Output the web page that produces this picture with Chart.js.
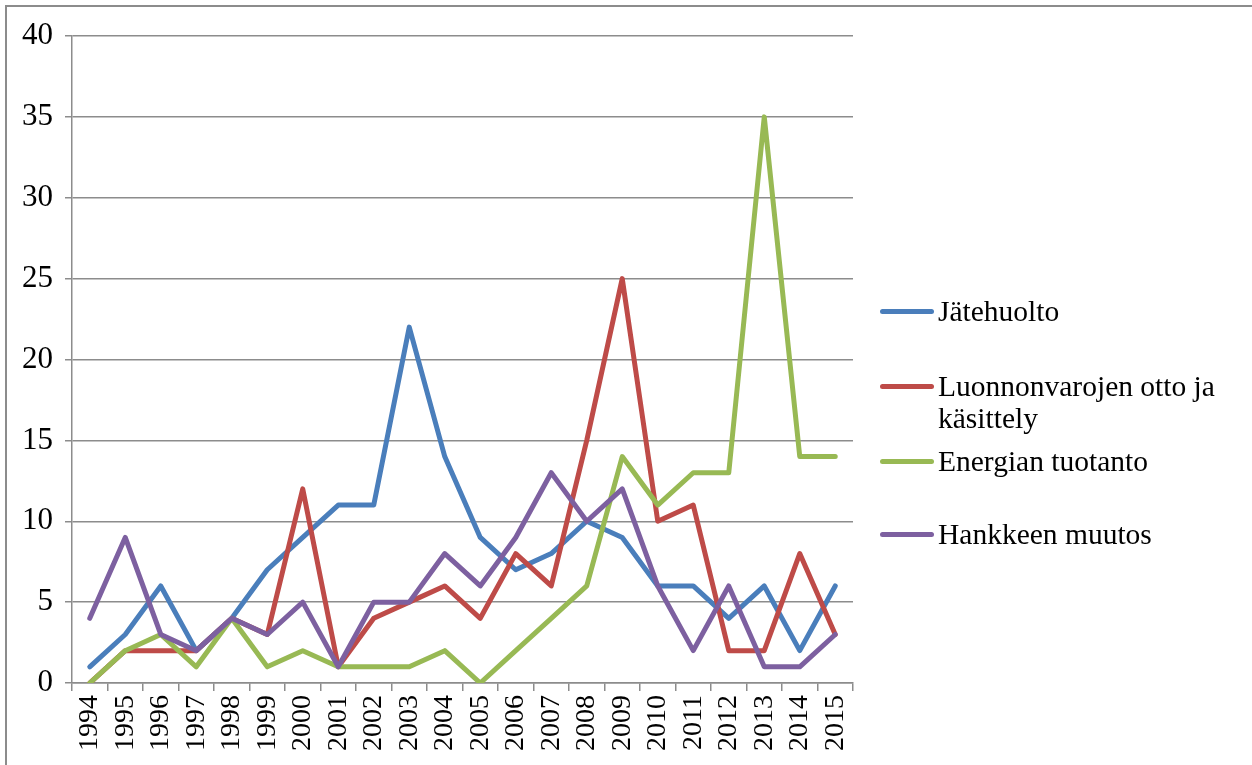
<!DOCTYPE html>
<html>
<head>
<meta charset="utf-8">
<script src="https://cdn.jsdelivr.net/npm/chart.js@4.4.0/dist/chart.umd.min.js"></script>
<style>
  body { margin: 0; background: #fff; }
  #frame { position: absolute; left: 5px; top: 5px; width: 1300px; height: 800px; border: 2px solid #8c8c8c; box-sizing: border-box; }
  #wrap { position: absolute; left: 0; top: 0; width: 1252px; height: 765px; }
  .leg { position: absolute; left: 880px; font-family: 'Liberation Serif', serif; font-size: 29.5px; line-height: 32px; color: #000; }
  .leg .mark { position: absolute; left: 0; top: 14px; width: 54px; height: 5px; border-radius: 3px; }
  .leg .txt { margin-left: 58px; }
</style>
</head>
<body>
<div id="frame"></div>
<div id="wrap"><canvas id="chart"></canvas></div>
<div id="legend"></div>
<script>
// Data
const years = ['1994','1995','1996','1997','1998','1999','2000','2001','2002','2003','2004',
               '2005','2006','2007','2008','2009','2010','2011','2012','2013','2014','2015'];
const jatehuolto = [1, 3, 6, 2, 4, 7, 9, 11, 11, 22, 14, 9, 7, 8, 10, 9, 6, 6, 4, 6, 2, 6];
const luonnonvarat = [0, 2, 2, 2, 4, 3, 12, 1, 4, 5, 6, 4, 8, 6, 15, 25, 10, 11, 2, 2, 8, 3];
const energia = [0, 2, 3, 1, 4, 1, 2, 1, 1, 1, 2, 0, 2, 4, 6, 14, 11, 13, 13, 35, 14, 14];
const muutos = [4, 9, 3, 2, 4, 3, 5, 1, 5, 5, 8, 6, 9, 13, 10, 12, 6, 2, 6, 1, 1, 3];
const seriesNames = ['Jätehuolto', 'Luonnonvarojen otto ja käsittely', 'Energian tuotanto', 'Hankkeen muutos'];
const seriesColors = ['#4a7ebb', '#be4b48', '#98b954', '#7d60a0'];
const yTicks = [0, 5, 10, 15, 20, 25, 30, 35, 40];

const font = 'Liberation Serif';
const axisGray = '#8c8c8c';
const allSeries = [jatehuolto, luonnonvarat, energia, muutos];

const ctx = document.getElementById('chart').getContext('2d');
new Chart(ctx, {
  type: 'line',
  data: {
    labels: years,
    datasets: allSeries.map((values, i) => ({
      label: seriesNames[i],
      data: values,
      borderColor: seriesColors[i],
      backgroundColor: seriesColors[i],
      order: allSeries.length - i
    }))
  },
  options: {
    responsive: true,
    maintainAspectRatio: false,
    animation: false,
    layout: { padding: { left: 0, right: 399, top: 36, bottom: 0 } },
    plugins: { legend: { display: false }, tooltip: { enabled: false } },
    elements: {
      point: { radius: 0 },
      line: { borderWidth: 5, tension: 0, borderCapStyle: 'round', borderJoinStyle: 'round' }
    },
    scales: {
      x: {
        offset: true,
        grid: { offset: true, drawOnChartArea: false, drawTicks: true, tickLength: 8, color: axisGray, lineWidth: 1.5 },
        border: { color: axisGray, width: 1.5 },
        ticks: { autoSkip: false, minRotation: 90, maxRotation: 90, padding: 4, color: '#000',
                 font: { family: font, size: 28 } },
        afterFit: s => { s.height = 82; }
      },
      y: {
        min: yTicks[0],
        max: yTicks[yTicks.length - 1],
        afterBuildTicks: s => { s.ticks = yTicks.map(v => ({ value: v })); },
        grid: { color: axisGray, lineWidth: 1.5, tickLength: 7 },
        border: { color: axisGray, width: 1.5 },
        ticks: { padding: 12, color: '#000', font: { family: font, size: 31 } },
        afterFit: s => { s.width = 72; }
      }
    }
  }
});

// Legend (wrapped like the original)
const legendRows = [
  { top: 295, text: 'Jätehuolto' },
  { top: 370, text: 'Luonnonvarojen otto ja<br>käsittely' },
  { top: 445, text: 'Energian tuotanto' },
  { top: 518, text: 'Hankkeen muutos' }
];
const legend = document.getElementById('legend');
legendRows.forEach((row, i) => {
  const el = document.createElement('div');
  el.className = 'leg';
  el.style.top = row.top + 'px';
  el.innerHTML = `<span class="mark" style="background:${seriesColors[i]}"></span><div class="txt">${row.text}</div>`;
  legend.appendChild(el);
});
</script>
</body>
</html>
